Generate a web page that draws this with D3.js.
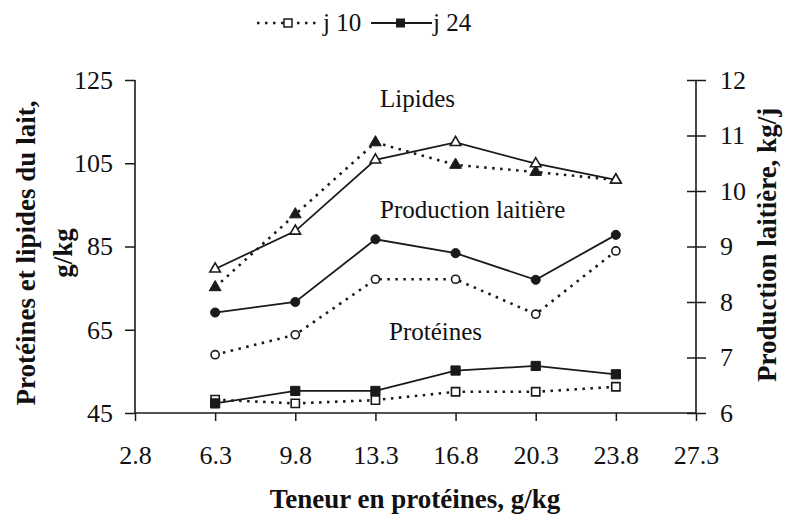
<!DOCTYPE html>
<html>
<head>
<meta charset="utf-8">
<script src="https://cdn.jsdelivr.net/npm/d3@7"></script>
<style>
	body { margin: 0; background: #fff; }
	text { font-family: 'Liberation Serif', 'Times New Roman', serif; fill: #111; }
</style>
</head>
<body>
<script>

// DATA
var xTicks = [2.8, 6.3, 9.8, 13.3, 16.8, 20.3, 23.8, 27.3];
var xVals = [6.3, 9.8, 13.3, 16.8, 20.3, 23.8];
var leftTicks = [45, 65, 85, 105, 125];
var rightTicks = [6, 7, 8, 9, 10, 11, 12];

var lipidesJ10 = [75.2, 92.7, 110.0, 104.6, 102.9, 101.0];
var lipidesJ24 = [79.6, 88.7, 105.8, 110.0, 104.9, 101.0];
var prodJ10 = [7.05, 7.41, 8.41, 8.41, 7.78, 8.92];
var prodJ24 = [7.81, 8.0, 9.13, 8.88, 8.40, 9.21];
var protJ10 = [48.2, 47.3, 48.1, 50.1, 50.1, 51.3];
var protJ24 = [47.3, 50.3, 50.3, 55.2, 56.3, 54.3];

var legendNames = ['j 10', 'j 24'];

var chart = d3.select('body').append('svg')
	.attr('width', 785)
	.attr('height', 523);

var x = d3.scaleLinear().domain([2.8, 27.3]).range([135, 696]);
var yLeft = d3.scaleLinear().domain([45, 125]).range([413, 80]);
var yRight = d3.scaleLinear().domain([6, 12]).range([413, 80]);

var ink = '#1a1a1a';

//AXES
var leftAxis = chart.append('g')
	.attr('transform', 'translate(135,0)')
	.call(d3.axisLeft(yLeft).tickValues(leftTicks).tickSize(10).tickPadding(12).tickFormat(d3.format('d')));

var rightAxis = chart.append('g')
	.attr('transform', 'translate(696,0)')
	.call(d3.axisRight(yRight).tickValues(rightTicks).tickSize(10).tickPadding(14).tickFormat(d3.format('d')));
rightAxis.selectAll('.tick line').attr('x1', -9);

var bottomAxis = chart.append('g')
	.attr('transform', 'translate(0,413)')
	.call(d3.axisBottom(x).tickValues(xTicks).tickSize(8).tickPadding(25).tickFormat(d3.format('.1f')));

[leftAxis, rightAxis, bottomAxis].forEach(function(ax){
	ax.select('.domain').attr('stroke', ink).attr('stroke-width', 1.6)
		.attr('d', ax === bottomAxis ? 'M135,0H696' : 'M0,80V413');
	ax.selectAll('.tick line').attr('stroke', ink).attr('stroke-width', 1.5);
	ax.selectAll('.tick text').attr('font-size', 26).attr('fill', ink)
		.style('font-family', "'Liberation Serif', 'Times New Roman', serif");
});

//AXIS TITLES
chart.append('text')
	.attr('transform', 'translate(35,253) rotate(-90)')
	.attr('text-anchor', 'middle')
	.attr('font-size', 27)
	.attr('font-weight', 'bold')
	.text('Protéines et lipides du lait,');

chart.append('text')
	.attr('transform', 'translate(72,253) rotate(-90)')
	.attr('text-anchor', 'middle')
	.attr('font-size', 27)
	.attr('font-weight', 'bold')
	.text('g/kg');

chart.append('text')
	.attr('transform', 'translate(776,245) rotate(-90)')
	.attr('text-anchor', 'middle')
	.attr('font-size', 27)
	.attr('font-weight', 'bold')
	.text('Production laitière, kg/j');

chart.append('text')
	.attr('x', 415)
	.attr('y', 508)
	.attr('text-anchor', 'middle')
	.attr('font-size', 27)
	.attr('font-weight', 'bold')
	.text('Teneur en protéines, g/kg');

//SERIES
function drawSeries(values, yScale, dotted, shape, filled){
	var pts = values.map(function(v, i){ return [x(xVals[i]), yScale(v)]; });

	chart.append('path')
		.attr('d', d3.line()(pts))
		.attr('fill', 'none')
		.attr('stroke', ink)
		.attr('stroke-width', dotted ? 2.6 : 1.8)
		.attr('stroke-dasharray', dotted ? '2.5,5.5' : null);

	var size = shape === d3.symbolTriangle ? 60 : (shape === d3.symbolSquare ? 85 : 65);
	chart.append('g').selectAll('path')
		.data(pts)
		.enter().append('path')
		.attr('transform', function(d){ return 'translate(' + d[0] + ',' + d[1] + ')'; })
		.attr('d', d3.symbol().type(shape).size(filled ? size : size * 0.8))
		.attr('fill', filled ? ink : 'white')
		.attr('stroke', ink)
		.attr('stroke-width', filled ? 1 : 1.6);
}

// lipides: dotted has filled triangles, solid has open triangles
drawSeries(lipidesJ10, yLeft, true, d3.symbolTriangle, true);
drawSeries(lipidesJ24, yLeft, false, d3.symbolTriangle, false);

// production (right axis)
drawSeries(prodJ10, yRight, true, d3.symbolCircle, false);
drawSeries(prodJ24, yRight, false, d3.symbolCircle, true);

// proteines
drawSeries(protJ10, yLeft, true, d3.symbolSquare, false);
drawSeries(protJ24, yLeft, false, d3.symbolSquare, true);

//LABELS
chart.append('text').attr('x', 380).attr('y', 107).attr('font-size', 25).text('Lipides');
chart.append('text').attr('x', 380).attr('y', 218).attr('font-size', 25).text('Production laitière');
chart.append('text').attr('x', 389).attr('y', 340).attr('font-size', 25).text('Protéines');

//LEGEND
var legend = chart.append('g');

legend.append('line')
	.attr('x1', 257).attr('x2', 318).attr('y1', 23).attr('y2', 23)
	.attr('stroke', ink).attr('stroke-width', 2.4).attr('stroke-dasharray', '2.5,5.5');
legend.append('rect')
	.attr('x', 284).attr('y', 19).attr('width', 8).attr('height', 8)
	.attr('fill', 'white').attr('stroke', ink).attr('stroke-width', 1.5);
legend.append('text')
	.attr('x', 323).attr('y', 31).attr('font-size', 25).text(legendNames[0]);

legend.append('line')
	.attr('x1', 371).attr('x2', 432).attr('y1', 23).attr('y2', 23)
	.attr('stroke', ink).attr('stroke-width', 1.8);
legend.append('rect')
	.attr('x', 396).attr('y', 18.5).attr('width', 9).attr('height', 9)
	.attr('fill', ink);
legend.append('text')
	.attr('x', 433).attr('y', 31).attr('font-size', 25).text(legendNames[1]);

</script>
</body>
</html>
